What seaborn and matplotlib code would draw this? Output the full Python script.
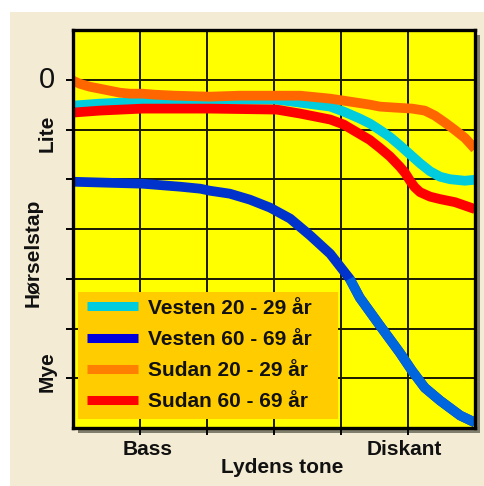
import matplotlib
matplotlib.use("Agg")
import matplotlib.pyplot as plt
import seaborn as sns
import pandas as pd
import numpy as np
from matplotlib.patches import Rectangle

# ---------------- data ----------------
series_names = ["Vesten 20 - 29 år", "Vesten 60 - 69 år", "Sudan 20 - 29 år", "Sudan 60 - 69 år"]

vesten20_x = [0.00, 0.40, 1.04, 2.04, 3.04, 3.39, 3.84, 4.04, 4.28, 4.43, 4.58, 4.73, 4.88, 5.03, 5.18, 5.33, 5.48, 5.63, 5.85, 6.00]
vesten20_y = [0.52, 0.48, 0.44, 0.40, 0.40, 0.46, 0.54, 0.64, 0.78, 0.88, 1.01, 1.15, 1.32, 1.50, 1.68, 1.84, 1.95, 2.00, 2.03, 2.01]

vesten60_x = [0.00, 1.04, 1.60, 1.90, 2.04, 2.34, 2.64, 2.94, 3.24, 3.54, 3.84, 4.06, 4.13, 4.28, 4.58, 4.88, 5.06, 5.25, 5.48, 5.78, 6.00]
vesten60_y = [2.05, 2.09, 2.15, 2.19, 2.23, 2.29, 2.41, 2.57, 2.79, 3.13, 3.50, 3.88, 4.00, 4.38, 4.94, 5.49, 5.85, 6.19, 6.45, 6.75, 6.89]

sudan20_x = [0.00, 0.10, 0.25, 0.40, 0.55, 0.70, 0.85, 1.04, 1.22, 1.52, 2.04, 2.49, 3.04, 3.39, 3.84, 4.04, 4.43, 4.58, 4.81, 5.06, 5.25, 5.40, 5.55, 5.70, 5.85, 6.00]
sudan20_y = [0.02, 0.08, 0.14, 0.18, 0.22, 0.26, 0.28, 0.28, 0.30, 0.32, 0.34, 0.32, 0.32, 0.32, 0.38, 0.42, 0.50, 0.54, 0.56, 0.58, 0.62, 0.72, 0.86, 1.01, 1.17, 1.39]

sudan60_x = [0.00, 0.40, 1.04, 2.04, 3.04, 3.39, 3.84, 4.04, 4.43, 4.58, 4.73, 4.88, 4.96, 5.03, 5.10, 5.18, 5.33, 5.48, 5.70, 6.00]
sudan60_y = [0.66, 0.62, 0.58, 0.58, 0.60, 0.68, 0.80, 0.90, 1.21, 1.37, 1.54, 1.75, 1.88, 2.03, 2.16, 2.26, 2.35, 2.40, 2.46, 2.60]

x_tick_values = [1, 2, 3, 4, 5]
y_tick_values = [0, 1, 2, 3, 4, 5, 6]
x_tick_labels = ["Bass", "Diskant"]
y_level_labels = ["0", "Lite", "Mye"]
x_axis_title = "Lydens tone"
y_axis_title = "Hørselstap"

# ---------------- styling ----------------
sns.set_style("white")
plt.rcParams['font.family'] = ['Liberation Sans', 'DejaVu Sans']

line_colors = {"Vesten 20 - 29 år": "#00CCDD", "Vesten 60 - 69 år": "#0033CC",
               "Sudan 20 - 29 år": "#FF6600", "Sudan 60 - 69 år": "#FF0000"}
legend_colors = ["#00CCDD", "#0000DD", "#FF7F00", "#FF0000"]
blue_light = "#0066DD"
blue_split = 4.13

W, H = 485, 486
fig = plt.figure(figsize=(W / 100, H / 100), dpi=100)
fig.patch.set_facecolor("white")

def fx(px):
    return px / W

def fy(py):
    return 1 - py / H

# parchment background
fig.add_artist(Rectangle((fx(10), 0), 1 - fx(10), fy(12), transform=fig.transFigure,
                         facecolor="#F3EBD3", edgecolor="none", zorder=-10))

ax_l, ax_r, ax_t, ax_b = 73, 475, 30, 428
# drop shadow of the chart frame
fig.add_artist(Rectangle((fx(ax_l + 5), fy(ax_b + 5)), fx(ax_r) - fx(ax_l), fy(ax_t) - fy(ax_b),
                         transform=fig.transFigure, facecolor="#5a5a4a", edgecolor="none",
                         alpha=0.75, zorder=-5))

ax = fig.add_axes([fx(ax_l), fy(ax_b), fx(ax_r) - fx(ax_l), fy(ax_t) - fy(ax_b)])
ax.set_facecolor("#FFFF00")

frames = []
for name, xs, ys in [(series_names[0], vesten20_x, vesten20_y),
                     (series_names[1], vesten60_x, vesten60_y),
                     (series_names[2], sudan20_x, sudan20_y),
                     (series_names[3], sudan60_x, sudan60_y)]:
    frames.append(pd.DataFrame({"tone": xs, "tap": ys, "gruppe": name}))
df = pd.concat(frames, ignore_index=True)

sns.lineplot(data=df, x="tone", y="tap", hue="gruppe", hue_order=series_names,
             palette=line_colors, sort=False, estimator=None, linewidth=7,
             ax=ax, legend=True)

# lighter blue lower part of the Vesten 60-69 curve
blue_part = df[(df["gruppe"] == series_names[1]) & (df["tone"] >= blue_split)]
sns.lineplot(data=blue_part, x="tone", y="tap", color=blue_light, sort=False,
             estimator=None, linewidth=7, ax=ax, legend=False)

for ln in ax.get_lines():
    ln.set_solid_capstyle("butt")
    ln.set_solid_joinstyle("round")

ax.set_xlim(0, 6)
ax.set_ylim(7, -1)
ax.set_xticks(x_tick_values)
ax.set_yticks(y_tick_values)
ax.grid(True, color="#1a1a00", linewidth=1.4)
ax.set_axisbelow(True)
ax.tick_params(direction="out", length=5, width=1.4, color="black",
               labelleft=False, labelbottom=False, left=True, bottom=True)
for s in ax.spines.values():
    s.set_visible(True)
    s.set_linewidth(2.4)
    s.set_color("black")
ax.set_xlabel("")
ax.set_ylabel("")

# legend background box
def axx(px):
    return (px - ax_l) / (ax_r - ax_l)

def axy(py):
    return (ax_b - py) / (ax_b - ax_t)

ax.add_patch(Rectangle((axx(78), axy(419)), axx(338) - axx(78), axy(292) - axy(419),
                       transform=ax.transAxes, facecolor="#FFCC00", edgecolor="none", zorder=4))

handles, labels = ax.get_legend_handles_labels()
for h, c in zip(handles, legend_colors):
    h.set_color(c)
    h.set_linewidth(6.5)
leg = ax.legend(handles, labels, loc="upper left", bbox_to_anchor=(axx(87), axy(298.5)),
                borderaxespad=0, frameon=False, prop=dict(weight="bold", size=15),
                handlelength=2.45, handletextpad=0.5, labelspacing=0.59, borderpad=0)
leg.set_zorder(5)
for t in leg.get_texts():
    t.set_color("#111111")

# axis texts
txt_kw = dict(color="#111111", ha="center", va="center")
fig.text(fx(47), fy(80), y_level_labels[0], fontsize=21, **txt_kw)
fig.text(fx(47), fy(133), y_level_labels[1], fontsize=15, weight="bold", rotation=90, **txt_kw)
fig.text(fx(47), fy(372), y_level_labels[2], fontsize=15, weight="bold", rotation=90, **txt_kw)
fig.text(fx(33), fy(253), y_axis_title, fontsize=15, weight="bold", rotation=90, **txt_kw)
fig.text(fx(148), fy(449), x_tick_labels[0], fontsize=15, weight="bold", **txt_kw)
fig.text(fx(404), fy(449), x_tick_labels[1], fontsize=15, weight="bold", **txt_kw)
fig.text(fx(282), fy(467), x_axis_title, fontsize=15, weight="bold", **txt_kw)

fig.savefig("out.png", dpi=100)
